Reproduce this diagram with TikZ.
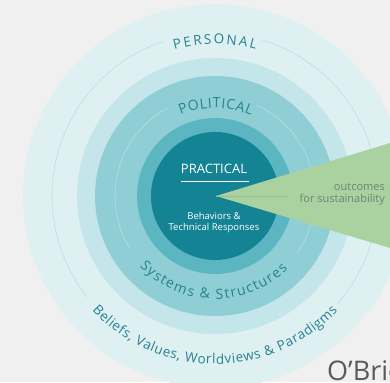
\documentclass[tikz,border=0pt]{standalone}
\usepackage{fontspec}
\setmainfont{Open Sans}
\usetikzlibrary{decorations.text}

\definecolor{bggray}{HTML}{F0F0F0}
\definecolor{ringA}{HTML}{DEF0F2}
\definecolor{ringB}{HTML}{C4E5E9}
\definecolor{ringC}{HTML}{8FCED5}
\definecolor{ringD}{HTML}{5CB6C2}
\definecolor{ringE}{HTML}{148494}
\definecolor{ringtext}{HTML}{27828F}
\definecolor{lineA}{HTML}{C3DCDF}
\definecolor{lineC}{HTML}{B3E0E5}
\definecolor{wedgegreen}{HTML}{AAD2A0}
\definecolor{wedgeline}{HTML}{96BE91}
\definecolor{wedgetext}{HTML}{6E846E}
\definecolor{authorgray}{HTML}{5A5A5A}

\begin{document}
\begin{tikzpicture}[x=1pt,y=1pt,
    ringlabel/.style 2 args={decorate,decoration={text along path,
        text align={fit to path},
        text={|\fontsize{#1}{#1}\selectfont\color{ringtext}|#2}}},
    thinring/.style={line width=0.6pt}]
  \useasboundingbox (-215,-186) rectangle (175,196);
  \fill[bggray] (-215,-186) rectangle (175,196);
  \clip (-215,-186) rectangle (175,196);

  \fill[ringA] (0,0) circle[radius=192];
  \fill[ringB] (0,0) circle[radius=138];
  \fill[ringC] (0,0) circle[radius=120];
  \fill[ringD] (0,0) circle[radius=78];
  \fill[ringE] (0,0) circle[radius=64];

  \draw[thinring,lineA] (108.7:163) arc[start angle=108.7,end angle=218.3,radius=163];
  \draw[thinring,lineA] (318.7:163) arc[start angle=318.7,end angle=433.7,radius=163];
  \draw[thinring,lineC] (118:100) arc[start angle=118,end angle=212,radius=100];
  \draw[thinring,lineC] (325:100) arc[start angle=325,end angle=425,radius=100];

  \coordinate (apex) at (1,0);
  \coordinate (tip) at (73,0);
  \fill[wedgegreen] (apex) -- (175,53) -- (175,-52) -- cycle;
  \draw[wedgeline,line width=0.6pt] (apex) -- (tip);

  \path[ringlabel={13.5}{PERSONAL}] (105.5:152) arc[start angle=105.5,end angle=74.5,radius=152];
  \path[ringlabel={14}{POLITICAL}] (113:88) arc[start angle=113,end angle=66,radius=88];
  \path[ringlabel={14}{Systems {\&} Structures}] (223:103) arc[start angle=223,end angle=315,radius=103];
  \path[ringlabel={13.5}{Beliefs, Values, Worldviews {\&} Paradigms}] (223:168) arc[start angle=223,end angle=317,radius=168];

  \node[white,font=\fontsize{13}{13}\selectfont] (practical) at (-1,27) {PRACTICAL};
  \draw[white,line width=0.8pt] (-34,15) -- (34,15);
  \node[white,align=center,font=\fontsize{9.5}{11}\selectfont] (behaviors) at (-1,-26.5)
    {Behaviors \&\\Technical Responses};
  \node[wedgetext,align=right,anchor=east,inner sep=0pt,font=\fontsize{11}{12}\selectfont] (outcomes) at (170,2)
    {outcomes\\for sustainability};
  \node[authorgray,anchor=base west,inner sep=0pt,font=\fontsize{27}{27}\selectfont] (author) at (112,-184) {O'Brien};
\end{tikzpicture}
\end{document}
